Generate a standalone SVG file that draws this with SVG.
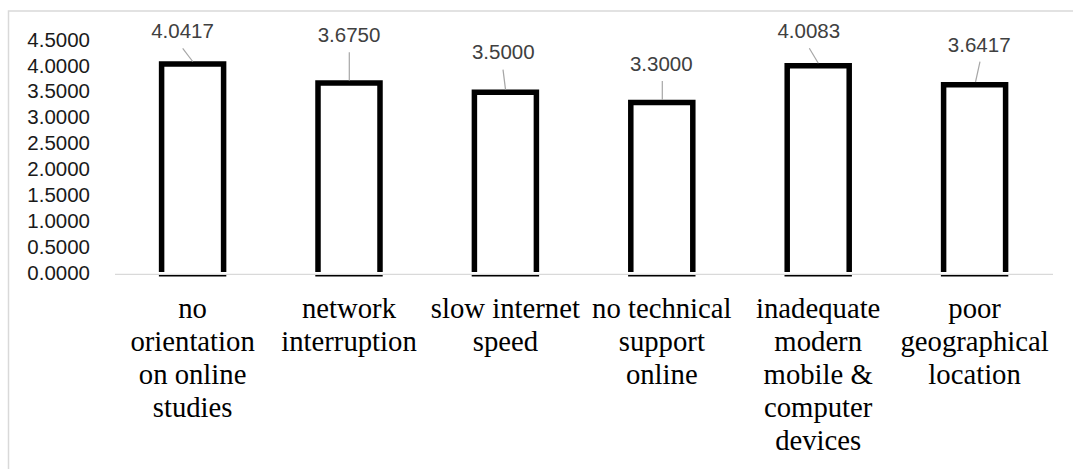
<svg xmlns="http://www.w3.org/2000/svg" width="1073" height="469" viewBox="0 0 1073 469">
<style>
.frame{fill:#ffffff;stroke:#d9d9d9;stroke-width:1.5}
.axis{stroke:#d9d9d9;stroke-width:1.3;fill:none}
.bar{fill:#ffffff;stroke:#000000;stroke-width:5.5;stroke-linejoin:miter}
.barbase{stroke:#000000;stroke-width:1.6}
.ytick{font-family:'Liberation Sans',Arial,sans-serif;font-size:20.5px;fill:#1a1a1a;text-anchor:end}
.val{font-family:'Liberation Sans',Arial,sans-serif;font-size:20.5px;fill:#404040;text-anchor:middle}
.cat{font-size:28.7px;fill:#000000;text-anchor:middle}
.leader{stroke:#a6a6a6;stroke-width:1.2;fill:none}
</style>
<rect width="1073" height="469" fill="#ffffff"/>
<rect class="frame" x="8.5" y="11" width="1080" height="480"/>
<g id="y-axis">
<text class="ytick" x="90" y="46.7">4.5000</text>
<text class="ytick" x="90" y="72.6">4.0000</text>
<text class="ytick" x="90" y="98.4">3.5000</text>
<text class="ytick" x="90" y="124.3">3.0000</text>
<text class="ytick" x="90" y="150.2">2.5000</text>
<text class="ytick" x="90" y="176.1">2.0000</text>
<text class="ytick" x="90" y="202.0">1.5000</text>
<text class="ytick" x="90" y="227.8">1.0000</text>
<text class="ytick" x="90" y="253.7">0.5000</text>
<text class="ytick" x="90" y="279.6">0.0000</text>
</g>
<g id="bar1">
<path class="bar" d="M161.6,272 V64 H223.6 V272"/>
<line class="barbase" x1="158.9" y1="275.6" x2="226.3" y2="275.6"/>
<text class="val" x="182.5" y="38">4.0417</text>
<g font-family="Liberation Serif, DejaVu Serif, serif">
<text class="cat" x="192.6" y="318" textLength="28.7" lengthAdjust="spacingAndGlyphs">no</text>
<text class="cat" x="192.6" y="351" textLength="124.4" lengthAdjust="spacingAndGlyphs">orientation</text>
<text class="cat" x="192.6" y="384" textLength="107.6" lengthAdjust="spacingAndGlyphs">on online</text>
<text class="cat" x="192.6" y="417" textLength="79.7" lengthAdjust="spacingAndGlyphs">studies</text>
</g>
</g>
<g id="bar2">
<path class="bar" d="M318,272 V83.1 H380 V272"/>
<line class="barbase" x1="315.3" y1="275.6" x2="382.7" y2="275.6"/>
<text class="val" x="349" y="42.3">3.6750</text>
<g font-family="Liberation Serif, DejaVu Serif, serif">
<text class="cat" x="349" y="318" textLength="94.0" lengthAdjust="spacingAndGlyphs">network</text>
<text class="cat" x="349" y="351" textLength="135.5" lengthAdjust="spacingAndGlyphs">interruption</text>
</g>
</g>
<g id="bar3">
<path class="bar" d="M474.4,272 V92.2 H536.4 V272"/>
<line class="barbase" x1="471.7" y1="275.6" x2="539.1" y2="275.6"/>
<text class="val" x="503.3" y="59.3">3.5000</text>
<g font-family="Liberation Serif, DejaVu Serif, serif">
<text class="cat" x="505.4" y="318" textLength="149.1" lengthAdjust="spacingAndGlyphs">slow internet</text>
<text class="cat" x="505.4" y="351" textLength="65.3" lengthAdjust="spacingAndGlyphs">speed</text>
</g>
</g>
<g id="bar4">
<path class="bar" d="M630.8,272 V102.6 H692.8 V272"/>
<line class="barbase" x1="628.1" y1="275.6" x2="695.5" y2="275.6"/>
<text class="val" x="661.3" y="71">3.3000</text>
<g font-family="Liberation Serif, DejaVu Serif, serif">
<text class="cat" x="661.8" y="318" textLength="139.5" lengthAdjust="spacingAndGlyphs">no technical</text>
<text class="cat" x="661.8" y="351" textLength="86.1" lengthAdjust="spacingAndGlyphs">support</text>
<text class="cat" x="661.8" y="384" textLength="71.8" lengthAdjust="spacingAndGlyphs">online</text>
</g>
</g>
<g id="bar5">
<path class="bar" d="M787.2,272 V65.8 H849.2 V272"/>
<line class="barbase" x1="784.5" y1="275.6" x2="851.9" y2="275.6"/>
<text class="val" x="808.8" y="38.3">4.0083</text>
<g font-family="Liberation Serif, DejaVu Serif, serif">
<text class="cat" x="818.2" y="318" textLength="124.3" lengthAdjust="spacingAndGlyphs">inadequate</text>
<text class="cat" x="818.2" y="351" textLength="87.7" lengthAdjust="spacingAndGlyphs">modern</text>
<text class="cat" x="818.2" y="384" textLength="109.2" lengthAdjust="spacingAndGlyphs">mobile &amp;</text>
<text class="cat" x="818.2" y="417" textLength="108.4" lengthAdjust="spacingAndGlyphs">computer</text>
<text class="cat" x="818.2" y="450" textLength="86.1" lengthAdjust="spacingAndGlyphs">devices</text>
</g>
</g>
<g id="bar6">
<path class="bar" d="M943.6,272 V84.8 H1005.6 V272"/>
<line class="barbase" x1="940.9" y1="275.6" x2="1008.3" y2="275.6"/>
<text class="val" x="979.2" y="51.7">3.6417</text>
<g font-family="Liberation Serif, DejaVu Serif, serif">
<text class="cat" x="974.6" y="318" textLength="52.6" lengthAdjust="spacingAndGlyphs">poor</text>
<text class="cat" x="974.6" y="351" textLength="148.2" lengthAdjust="spacingAndGlyphs">geographical</text>
<text class="cat" x="974.6" y="384" textLength="92.5" lengthAdjust="spacingAndGlyphs">location</text>
</g>
</g>
<line id="x-axis" class="axis" x1="115" y1="274.3" x2="1053" y2="274.3"/>
<g id="connectors">
<line class="leader" x1="182.7" y1="48.3" x2="192.7" y2="61.5"/>
<line class="leader" x1="349.3" y1="52.3" x2="349.3" y2="80.5"/>
<line class="leader" x1="503" y1="69.7" x2="505.5" y2="89.5"/>
<line class="leader" x1="662.3" y1="81" x2="662.3" y2="100"/>
<line class="leader" x1="809.3" y1="48.3" x2="818.3" y2="63.2"/>
<line class="leader" x1="980" y1="61.7" x2="975.5" y2="82"/>
</g>
</svg>
